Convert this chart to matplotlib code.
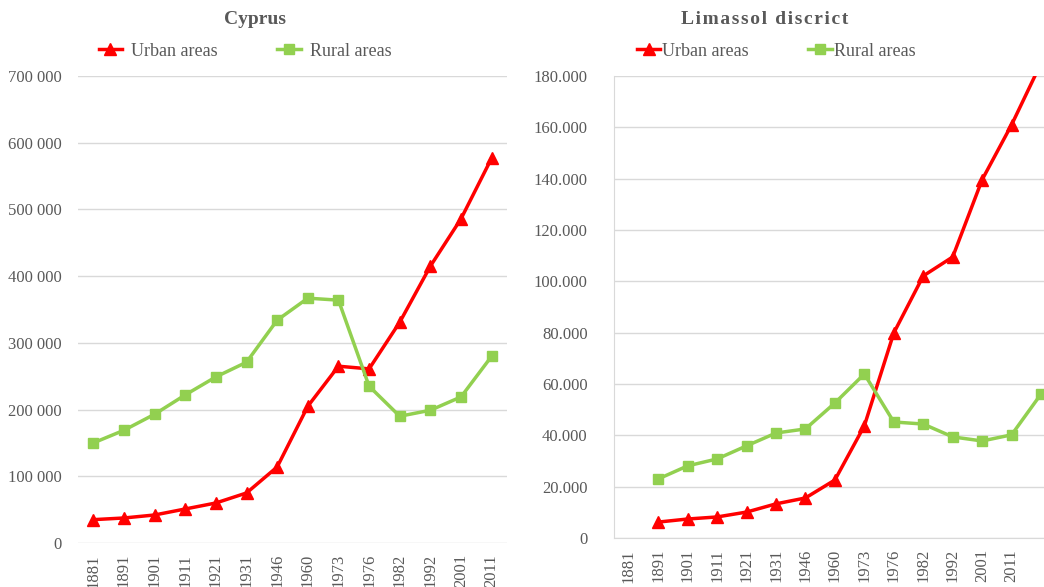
import matplotlib.pyplot as plt
import matplotlib.ticker as ticker

# Category labels (census years)
years = ["1881", "1891", "1901", "1911", "1921", "1931", "1946",
         "1960", "1973", "1976", "1982", "1992", "2001", "2011"]

# Cyprus
cy_urban = [35000, 37500, 42000, 51000, 60000, 75000, 114000,
            205000, 265000, 261000, 331000, 415000, 486000, 577000]
cy_rural = [150000, 169000, 193000, 222000, 249000, 271000, 334000,
            367000, 364000, 235000, 190000, 199000, 219000, 280000]

# Limassol district (series sit one category to the right of the labels)
li_urban = [6200, 7400, 8200, 10100, 13300, 15600, 22600,
            43700, 79900, 102100, 109500, 139600, 161000, 185000]
li_rural = [23000, 28100, 30800, 35900, 40900, 42500, 52600,
            63900, 45200, 44400, 39400, 37800, 40200, 56100]

RED = "#FF0000"
GREEN = "#92D050"
GRAY = "#595959"
GRID = "#D9D9D9"

plt.rcParams['font.family'] = ['Liberation Serif', 'DejaVu Serif']

W, H = 1044, 587
fig = plt.figure(figsize=(W / 100, H / 100), dpi=100)


def px_axes(x0, y0, x1, y1):
    return fig.add_axes([x0 / W, 1 - y1 / H, (x1 - x0) / W, (y1 - y0) / H])


def style(ax, ymax, step, fmt, frame):
    ax.set_ylim(0, ymax)
    ax.yaxis.set_major_locator(ticker.MultipleLocator(step))
    ax.yaxis.set_major_formatter(ticker.FuncFormatter(fmt))
    ax.grid(axis='y', color=GRID, linewidth=1)
    ax.set_axisbelow(True)
    for s in ax.spines.values():
        s.set_visible(False)
    if frame:
        ax.spines['left'].set_visible(True)
        ax.spines['left'].set_color(GRID)
        ax.spines['bottom'].set_visible(True)
        ax.spines['bottom'].set_color(GRID)
    ax.tick_params(length=0, colors=GRAY, labelsize=12)
    ax.set_xticks(range(len(years)))
    ax.set_xticklabels(years, rotation=90, fontsize=12, color=GRAY)
    ax.tick_params(axis='x', pad=8)


# Left: Cyprus
ax1 = px_axes(78, 76, 507, 543)
x = list(range(len(years)))
ax1.plot(x, cy_urban, color=RED, lw=2.5, marker='^', ms=8, label='Urban areas')
ax1.plot(x, cy_rural, color=GREEN, lw=2.5, marker='s', ms=7, label='Rural areas')
ax1.set_xlim(-0.5, len(years) - 0.5)
style(ax1, 700000, 100000, lambda v, p: f"{int(v):,}".replace(",", " "), False)
ax1.tick_params(axis='y', pad=12)
fig.text(255 / W, 1 - 19 / H, "Cyprus", ha='center', va='center',
         fontsize=14, fontweight='bold', color=GRAY)
ax1.legend(loc='center', bbox_to_anchor=((245 - 78) / 429, 1 + 25 / 467), ncol=2,
           frameon=False, fontsize=13, labelcolor=GRAY, columnspacing=3.3,
           handlelength=1.3, handletextpad=0.5)

# Right: Limassol
ax2 = px_axes(614, 76, 1044, 538)
x2 = [i + 1 for i in range(len(li_urban))]
ax2.plot(x2, li_urban, color=RED, lw=2.5, marker='^', ms=8, label='Urban areas')
ax2.plot(x2, li_rural, color=GREEN, lw=2.5, marker='s', ms=7, label='Rural areas')
ax2.set_xlim(-0.5, 14.1)
style(ax2, 180000, 20000, lambda v, p: f"{int(v):,}".replace(",", "."), True)
ax2.tick_params(axis='y', pad=19)
fig.text(765 / W, 1 - 19 / H, "\u200a".join("Limassol discrict"),
         ha='center', va='center', fontsize=14, fontweight='bold', color=GRAY)
ax2.legend(loc='center', bbox_to_anchor=((776 - 614) / 430, 1 + 25 / 462), ncol=2,
           frameon=False, fontsize=13, labelcolor=GRAY, columnspacing=3.3,
           handlelength=1.3, handletextpad=0.1)

fig.savefig("out.png", dpi=100)
